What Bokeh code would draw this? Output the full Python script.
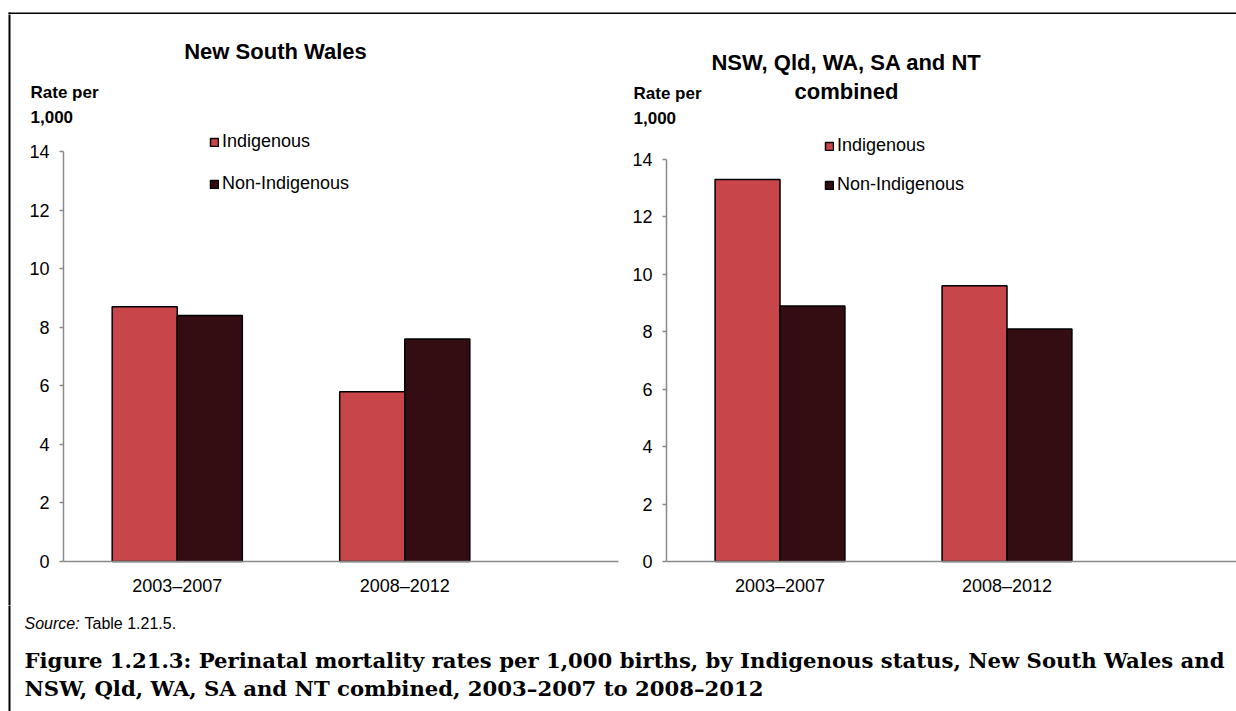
from bokeh.plotting import figure
from bokeh.models import Range1d, Label, Legend, LegendItem, FixedTicker, ColumnDataSource
from bokeh.layouts import row, column
from bokeh.transform import dodge
from bokeh.embed import file_html
from bokeh.resources import INLINE

# ---------------- data ----------------
periods = ["2003–2007", "2008–2012"]
series = ["Indigenous", "Non-Indigenous"]
nsw_indigenous = [8.7, 5.8]
nsw_non_indigenous = [8.4, 7.6]
comb_indigenous = [13.3, 9.6]
comb_non_indigenous = [8.9, 8.1]
y_ticks = [0, 2, 4, 6, 8, 10, 12, 14]
colors = ["#C8464A", "#330D12"]

FONT = "Liberation Sans"
SERIF = "DejaVu Serif"
AXIS_COL = "#8a8a8a"
PAGE_TOP = 14     # page y of the chart canvases' top
ZERO_Y = 561      # page y of value 0


def make_chart(width, height, page_left, axis_page_x, cat_px, unit_px, axis_end_page,
               title_lines, title_x, title_ys, rate_x, rate_ys,
               legend_x, legend_y, legend_spacing, ind, non, left_border):
    page_bottom = PAGE_TOP + height
    x0 = (page_left - axis_page_x) / cat_px
    x1 = (page_left + width - axis_page_x) / cat_px
    y1 = (ZERO_Y - PAGE_TOP) / unit_px
    y0 = (ZERO_Y - page_bottom) / unit_px
    p = figure(width=width, height=height, output_backend="svg", toolbar_location=None,
               x_range=Range1d(x0, x1), y_range=Range1d(y0, y1),
               min_border=0, outline_line_color=None)
    p.grid.visible = False

    def dx(px):
        return (px - axis_page_x) / cat_px

    def dy(py):
        return (ZERO_Y - py) / unit_px

    # left box line of the whole figure
    if left_border:
        p.segment(x0=[dx(9)], y0=[y1 + 1], x1=[dx(9)], y1=[y0 - 1],
                  line_color="black", line_width=2)

    xs = [i + 0.5 for i in range(len(periods))]
    src = ColumnDataSource(dict(x=xs, ind=ind, non=non))
    bw = 0.286
    r1 = p.vbar(x=dodge("x", -bw / 2, range=p.x_range), top="ind", width=bw, source=src,
                fill_color=colors[0], line_color="black", line_width=1.5)
    r2 = p.vbar(x=dodge("x", bw / 2, range=p.x_range), top="non", width=bw, source=src,
                fill_color=colors[1], line_color="black", line_width=1.5)

    # y axis
    ya = p.yaxis[0]
    ya.fixed_location = 0
    ya.ticker = FixedTicker(ticks=y_ticks)
    ya.bounds = (0, max(y_ticks))
    ya.axis_line_color = AXIS_COL
    ya.axis_line_width = 1.5
    ya.major_tick_line_color = AXIS_COL
    ya.major_tick_line_width = 1.5
    ya.major_tick_out = 4
    ya.major_tick_in = 0
    ya.minor_tick_line_color = None
    ya.major_label_standoff = 10
    ya.major_label_text_font = FONT
    ya.major_label_text_font_size = "18px"
    ya.major_label_text_color = "black"

    # x axis
    xa = p.xaxis[0]
    xa.fixed_location = 0
    xa.ticker = FixedTicker(ticks=xs)
    xa.major_label_overrides = {x: lab for x, lab in zip(xs, periods)}
    xa.bounds = (0, (axis_end_page - axis_page_x) / cat_px)
    xa.axis_line_color = AXIS_COL
    xa.axis_line_width = 1.5
    xa.major_tick_line_color = None
    xa.minor_tick_line_color = None
    xa.major_tick_out = 0
    xa.major_label_standoff = 14
    xa.major_label_text_font = FONT
    xa.major_label_text_font_size = "18px"
    xa.major_label_text_color = "black"

    for txt, ty in zip(title_lines, title_ys):
        p.add_layout(Label(x=dx(title_x), y=dy(ty), text=txt, text_align="center",
                           text_baseline="middle", text_font=FONT, text_font_style="bold",
                           text_font_size="22px", text_color="black"))
    for txt, ty in zip(["Rate per", "1,000"], rate_ys):
        p.add_layout(Label(x=dx(rate_x), y=dy(ty), text=txt, text_align="left",
                           text_baseline="middle", text_font=FONT, text_font_style="bold",
                           text_font_size="17px", text_color="black"))

    legend = Legend(items=[LegendItem(label=series[0], renderers=[r1]),
                           LegendItem(label=series[1], renderers=[r2])],
                    location=(legend_x - page_left, page_bottom - legend_y),
                    orientation="vertical", padding=0, margin=0, spacing=legend_spacing,
                    glyph_width=10, glyph_height=10, label_height=20, label_standoff=3,
                    label_text_font=FONT, label_text_font_size="18px", label_text_color="black",
                    border_line_color=None, background_fill_alpha=0)
    p.add_layout(legend)
    return p


# ---------------- top strip with the box's top line ----------------
p0 = figure(width=1236, height=14, output_backend="svg", toolbar_location=None,
            x_range=Range1d(0, 1236), y_range=Range1d(14, 0),
            min_border=0, outline_line_color=None)
p0.axis.visible = False
p0.grid.visible = False
p0.segment(x0=[8], y0=[13], x1=[1240], y1=[13], line_color="black", line_width=2)
p0.segment(x0=[9], y0=[12], x1=[9], y1=[16], line_color="black", line_width=2)

p1 = make_chart(width=625, height=591, page_left=0, axis_page_x=63, cat_px=227.5,
                unit_px=29.2857, axis_end_page=618,
                title_lines=["New South Wales"], title_x=275, title_ys=[51],
                rate_x=30, rate_ys=[92, 116], legend_x=209, legend_y=194, legend_spacing=21,
                ind=nsw_indigenous, non=nsw_non_indigenous, left_border=True)

p2 = make_chart(width=611, height=591, page_left=625, axis_page_x=666, cat_px=227.0,
                unit_px=28.714, axis_end_page=1236,
                title_lines=["NSW, Qld, WA, SA and NT", "combined"], title_x=846, title_ys=[62, 91],
                rate_x=633, rate_ys=[93, 117], legend_x=824, legend_y=195, legend_spacing=18,
                ind=comb_indigenous, non=comb_non_indigenous, left_border=False)

# ---------------- bottom notes ----------------
p3 = figure(width=1236, height=106, output_backend="svg", toolbar_location=None,
            x_range=Range1d(0, 1236), y_range=Range1d(711, 605),
            min_border=0, outline_line_color=None)
p3.axis.visible = False
p3.grid.visible = False
p3.segment(x0=[9], y0=[600], x1=[9], y1=[720], line_color="black", line_width=2)
p3.add_layout(Label(x=24, y=623, text="Source:", text_font=FONT, text_font_style="italic",
                    text_font_size="16px", text_baseline="middle", text_color="black"))
p3.add_layout(Label(x=84, y=623, text="Table 1.21.5.", text_font=FONT,
                    text_font_size="16px", text_baseline="middle", text_color="black"))
p3.add_layout(Label(x=24, y=660,
                    text="Figure 1.21.3: Perinatal mortality rates per 1,000 births, by Indigenous status, New South Wales and",
                    text_font=SERIF, text_font_style="bold", text_font_size="21.2px",
                    text_baseline="middle", text_color="black"))
p3.add_layout(Label(x=24, y=688,
                    text="NSW, Qld, WA, SA and NT combined, 2003–2007 to 2008–2012",
                    text_font=SERIF, text_font_style="bold", text_font_size="21.2px",
                    text_baseline="middle", text_color="black"))

layout = column(p0, row(p1, p2), p3)

open("out.html", "w").write(file_html(layout, INLINE))
